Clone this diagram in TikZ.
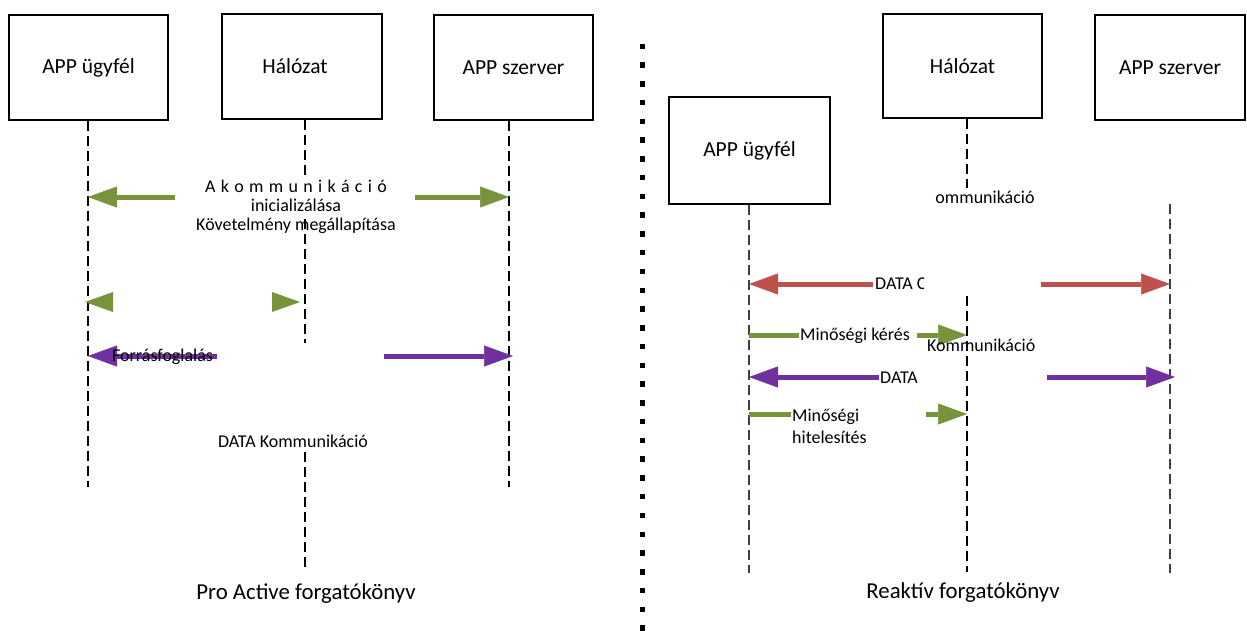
\documentclass[tikz,border=0pt]{standalone}
\usepackage{fontspec}
\setmainfont{Carlito}
\usetikzlibrary{arrows.meta,positioning}
\definecolor{msggreen}{HTML}{77933C}
\definecolor{msgred}{HTML}{C0504D}
\definecolor{msgpurple}{HTML}{7030A0}
\definecolor{lifegrey}{HTML}{3F3F3F}
\tikzset{
  actor/.style={rectangle, draw=black, line width=1.3pt, fill=white, inner sep=0pt,
                font=\fontsize{21.5}{26}\selectfont},
  life/.style={draw=black, line width=1.2pt, dash pattern=on 10pt off 5pt},
  lifer/.style={life, draw=lifegrey, line width=1.8pt},
  lbl/.style={inner sep=0pt, font=\fontsize{18}{19}\selectfont, align=center},
  caption/.style={inner sep=0pt, font=\fontsize{22.8}{26}\selectfont},
  msg/.style={line width=5pt, -{Triangle[length=29pt, width=21pt, line width=0.5pt]}},
  stub/.style={line width=5pt},
  sepdot/.style={fill=black}
}
\begin{document}
\begin{tikzpicture}[x=1pt, y=-1pt]
  \useasboundingbox (0,0) rectangle (1247,630);

  % pro active
  \node[actor, minimum width=159pt, minimum height=105pt] (lcli) at (88.5,67.5) {APP ügyfél};
  \node[actor, minimum width=160pt, minimum height=105pt, text depth=0pt] (lnet) at (302,66.5) {\hspace*{-14pt}Hálózat};
  \node[actor, minimum width=159pt, minimum height=105pt] (lsrv) at (513.5,67.5) {APP szerver};
  \coordinate (Lc) at (88,487);
  \coordinate (Ln) at (305,570);
  \coordinate (Ls) at (509,487);
  \draw[life] (lcli.south -| Lc) -- (Lc);
  \draw[life] (lnet.south -| Ln) -- (Ln |- 0,177) (Ln |- 0,219) -- (Ln |- 0,343) (Ln |- 0,452) -- (Ln);
  \draw[life] (lsrv.south -| Ls) -- (Ls);

  \draw[msg, msggreen] (175,197) -- (Lc |- 0,197);
  \draw[msg, msggreen] (415,197) -- (Ls |- 0,197);
  \fill[msggreen] (85,302) -- (113,292) -- (113,312) -- cycle;
  \fill[msggreen] (300,302) -- (272,292) -- (272,312) -- cycle;
  \draw[msg, msgpurple] (217,356) -- (Lc |- 0,356);
  \draw[msg, msgpurple] (384,356) -- (513,356);

  \node[lbl] (init) at (296,207) {{\spaceskip=5.3pt\relax A k o m m u n i k á c i ó}\\inicializálása\\Követelmény megállapítása};
  \node[lbl, anchor=west] (alloc) at (112,357) {Forrásfoglalás};
  \node[lbl] (ldata) at (293,441) {DATA Kommunikáció};
  \node[caption] (lcap) at (306,594) {Pro Active forgatókönyv};

  % separator
  \foreach \i in {0,...,31} \fill[sepdot] (639.5,{43.5+18.77*\i}) rectangle ++(5.5,5.5);

  % reaktiv
  \node[actor, minimum width=161pt, minimum height=107pt] (rcli) at (749.5,150.5) {APP ügyfél};
  \node[actor, minimum width=159pt, minimum height=104pt] (rnet) at (962.5,66) {Hálózat};
  \node[actor, minimum width=150pt, minimum height=105pt] (rsrv) at (1170,67.5) {APP szerver};
  \coordinate (Rc) at (749,573);
  \coordinate (Rn) at (967,572);
  \coordinate (Rs) at (1170,573);
  \draw[lifer] (rcli.south -| Rc) -- (Rc);
  \draw[life] (rnet.south -| Rn) -- (Rn |- 0,188) (Rn |- 0,296) -- (Rn);
  \draw[lifer] (Rs |- 0,204) -- (Rs);

  \draw[msg, msgred] (873,284) -- (Rc |- 0,284);
  \draw[msg, msgred] (1041,284) -- (Rs |- 0,284);
  \draw[stub, msggreen] (Rc |- 0,335) -- (799,335);
  \draw[msg, msggreen] (917,335) -- (Rn |- 0,335);
  \draw[msg, msgpurple] (879,377) -- (Rc |- 0,377);
  \draw[msg, msgpurple] (1047,377) -- (1175,377);
  \draw[stub, msggreen] (Rc |- 0,414) -- (791,414);
  \draw[msg, msggreen] (926,414) -- (Rn |- 0,414);

  \node[lbl] (rinit) at (985,197) {ommunikáció};
  \begin{scope}
    \clip (870,262) rectangle (923,306);
    \node[lbl, anchor=west] (rdata1) at (875,284) {DATA C};
  \end{scope}
  \node[lbl, anchor=west] (qreq) at (800,336) {Minőségi kérés};
  \node[lbl, anchor=west] (rkomm) at (927,345) {Kommunikáció};
  \node[lbl, anchor=west] (rdata2) at (880,378) {DATA};
  \node[lbl, anchor=west, align=left, font=\fontsize{18}{22}\selectfont] (qauth) at (792,426) {Minőségi\\hitelesítés};
  \node[caption] (rcap) at (963,593) {Reaktív forgatókönyv};
\end{tikzpicture}
\end{document}
